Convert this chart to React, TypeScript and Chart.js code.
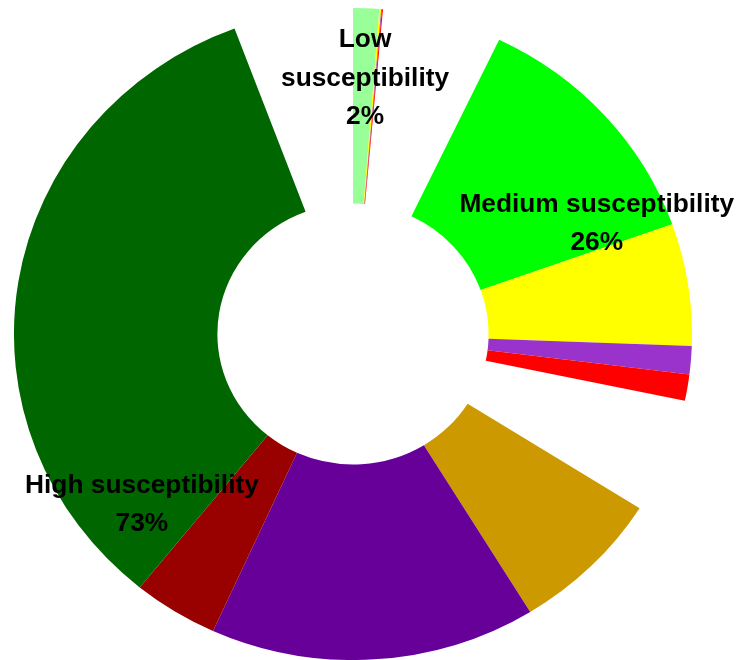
import { useEffect, useRef } from "react";
import { Chart, registerables } from "chart.js";

Chart.register(...registerables);

// Susceptibility groups, drawn clockwise from 12 o'clock.
const groupNames = ["Low\nsusceptibility", "Medium susceptibility", "High susceptibility"];

// Sub-class shares (percent of the whole) inside each group.
const lowValues = [1.5, 0.1, 0.04, 0.06];
const lowColors = ["#99FF99", "#FFFF00", "#9933CC", "#FF0000"];

const mediumValues = [15.0, 7.3, 1.67, 1.58];
const mediumColors = ["#00FF00", "#FFFF00", "#9933CC", "#FF0000"];

const highValues = [8.77, 18.72, 4.89, 40.37];
const highColors = ["#CC9900", "#660099", "#990000", "#006600"];

// Empty wedge left after every group.
const groupGap = 6.85;

// Horizontal stretch of the ring.
const STRETCH_X = 1.04;

type Group = { name: string; values: number[]; colors: string[] };

const groups: Group[] = [
  { name: groupNames[0], values: lowValues, colors: lowColors },
  { name: groupNames[1], values: mediumValues, colors: mediumColors },
  { name: groupNames[2], values: highValues, colors: highColors },
];

function buildRing() {
  const data: number[] = [];
  const colors: string[] = [];
  const ranges: { first: number; last: number; sum: number; name: string }[] = [];
  groups.forEach((g) => {
    const first = data.length;
    g.values.forEach((v, i) => {
      data.push(v);
      colors.push(g.colors[i]);
    });
    ranges.push({
      first,
      last: data.length - 1,
      sum: g.values.reduce((a, b) => a + b, 0),
      name: g.name,
    });
    data.push(groupGap);
    colors.push("rgba(0,0,0,0)");
  });
  return { data, colors, ranges };
}

export default function App() {
  const canvasRef = useRef<HTMLCanvasElement | null>(null);

  useEffect(() => {
    const canvas = canvasRef.current;
    if (!canvas) return;
    const { data, colors, ranges } = buildRing();
    const total = ranges.reduce((a, r) => a + r.sum, 0);

    const stretchPlugin = {
      id: "ringStretch",
      beforeDatasetsDraw(chart: any) {
        const arc = chart.getDatasetMeta(0).data[0];
        const ctx = chart.ctx;
        ctx.save();
        ctx.translate(arc.x, arc.y);
        ctx.scale(STRETCH_X, 1);
        ctx.translate(-arc.x, -arc.y);
      },
      afterDatasetsDraw(chart: any) {
        chart.ctx.restore();
      },
    };

    const groupLabelPlugin = {
      id: "groupLabels",
      afterDraw(chart: any) {
        const arcs = chart.getDatasetMeta(0).data;
        const ctx = chart.ctx;
        const lineHeight = 38.5;
        const baselineShift = 13;
        ctx.save();
        ctx.font = 'bold 26.3px "Liberation Sans", Arial, sans-serif';
        ctx.fillStyle = "#000000";
        ctx.textAlign = "center";
        ctx.textBaseline = "alphabetic";
        ranges.forEach((r) => {
          const a0 = arcs[r.first];
          const a1 = arcs[r.last];
          const mid = (a0.startAngle + a1.endAngle) / 2;
          const rad = a0.innerRadius + 0.67 * (a0.outerRadius - a0.innerRadius);
          const x = a0.x + STRETCH_X * rad * Math.cos(mid);
          const y = a0.y + rad * Math.sin(mid);
          const lines = r.name.split("\n");
          lines.push(Math.round((r.sum / total) * 100) + "%");
          const top = y - ((lines.length - 1) * lineHeight) / 2 + baselineShift;
          lines.forEach((t, i) => ctx.fillText(t, x, top + i * lineHeight));
        });
        ctx.restore();
      },
    };

    const chart = new Chart(canvas, {
      type: "doughnut",
      data: {
        labels: data.map((_, i) => String(i)),
        datasets: [
          {
            data,
            backgroundColor: colors,
            borderWidth: 0,
            hoverOffset: 0,
          },
        ],
      },
      options: {
        responsive: false,
        animation: false,
        events: [],
        cutout: "40%",
        radius: 326,
        layout: { padding: { left: 0, right: 31, top: 8, bottom: 0 } },
        plugins: {
          legend: { display: false },
          tooltip: { enabled: false },
        },
      },
      plugins: [stretchPlugin, groupLabelPlugin],
    });

    return () => chart.destroy();
  }, []);

  return (
    <div
      style={{
        position: "fixed",
        left: 0,
        top: 0,
        width: 737,
        height: 660,
        background: "#ffffff",
      }}
    >
      <canvas ref={canvasRef} width={737} height={660} style={{ display: "block" }} />
    </div>
  );
}
